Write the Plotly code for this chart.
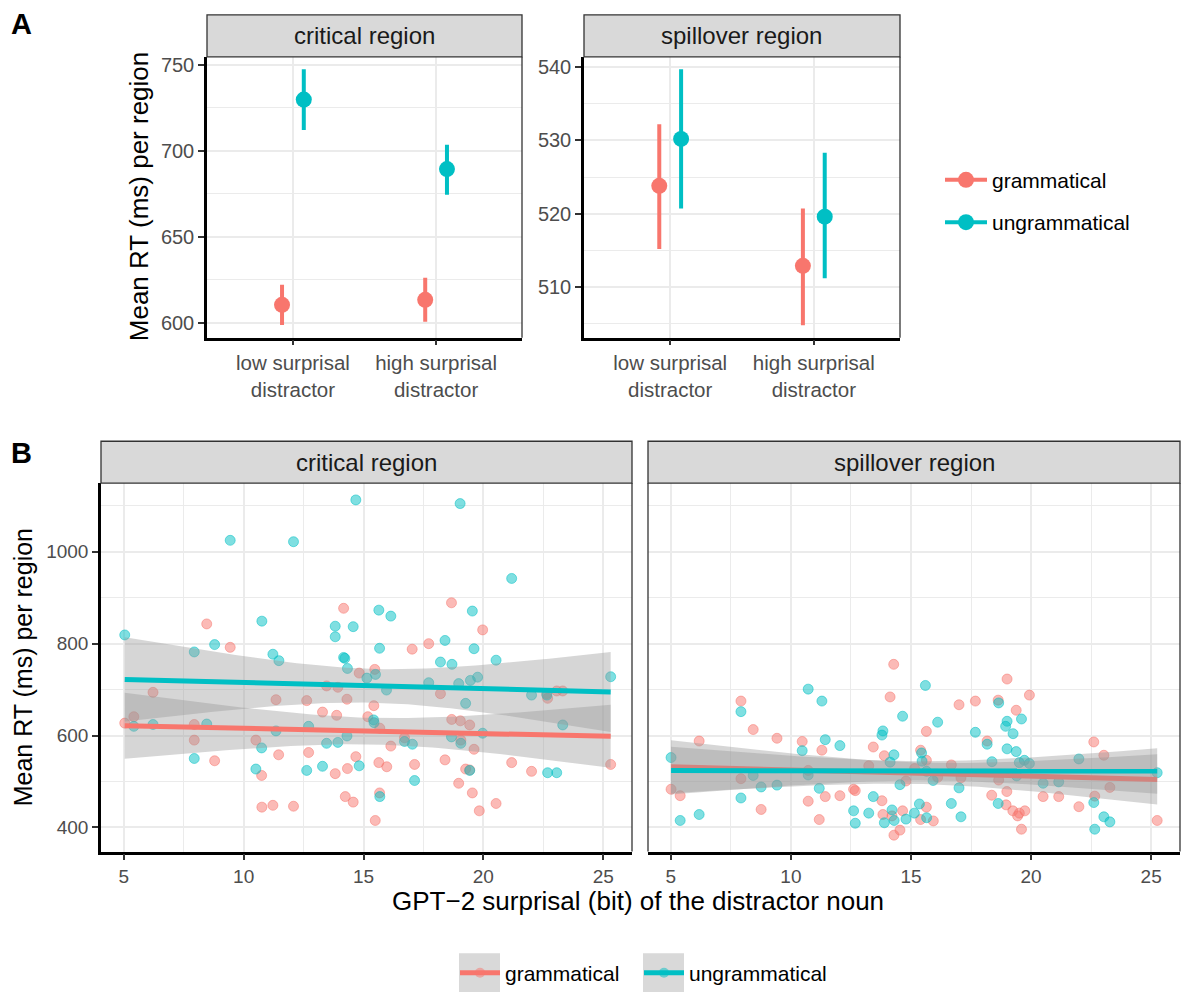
import numpy as np
import plotly.graph_objects as go

W, H = 1182, 994
RED = "#F8766D"
CYAN = "#00BFC4"
RED_A = "rgba(248,118,109,0.5)"
CYAN_A = "rgba(0,191,196,0.5)"
FONT = "Liberation Sans, Arial, sans-serif"
GRID = "#EBEBEB"
DARK = "#333333"

# ---------------- Panel A: condition means with 95% CIs ----------------
conditions = ["low surprisal<br>distractor", "high surprisal<br>distractor"]

crit_gram_mean = [610.4, 613.3]
crit_gram_lo = [598.6, 600.6]
crit_gram_hi = [622.0, 626.1]
crit_ungram_mean = [729.7, 689.3]
crit_ungram_lo = [712.1, 674.4]
crit_ungram_hi = [747.3, 703.4]

spill_gram_mean = [523.8, 512.9]
spill_gram_lo = [515.2, 504.8]
spill_gram_hi = [532.2, 520.7]
spill_ungram_mean = [530.2, 519.6]
spill_ungram_lo = [520.7, 511.2]
spill_ungram_hi = [539.7, 528.3]

# ---------------- Panel B: item means by distractor surprisal ----------------
crit_gram_x = [14.17, 8.46, 9.44, 14.82, 13.46, 13.93, 6.22, 11.35, 12.63, 13.29,
               13.88, 14.31, 5.04, 5.42, 7.94, 7.94, 10.51, 8.79, 11.46, 12.71,
               14.68, 10.75, 13.82, 14.33, 10.76, 11.22, 12.08, 14.24, 14.57,
               18.67, 19.97, 17.72, 17.03, 15.47, 15.43, 18.21, 15.18, 15.68, 18.68,
               19.04, 19.43, 22.64, 22.68, 23.06, 23.31, 16.71, 19.06, 16.14, 19.61,
               15.64, 15.97, 17.13, 18.40, 19.26, 19.43, 21.18, 22.01, 25.31, 18.97,
               19.54, 20.53, 19.83, 15.67, 15.49]
crit_gram_y = [877, 843, 792, 736, 708, 705, 694, 678, 676, 651,
               644, 679, 627, 641, 624, 590, 590, 545, 558, 563,
               554, 513, 517, 528, 444, 448, 446, 467, 455,
               889, 830, 800, 788, 744, 665, 691, 641, 616, 635,
               632, 623, 691, 681, 697, 697, 595, 590, 577, 570,
               541, 532, 537, 547, 527, 525, 541, 522, 537, 496,
               475, 452, 436, 475, 415]

crit_ungram_x = [14.68, 9.44, 12.08, 5.04, 10.76, 13.82, 14.57, 13.82, 7.94, 8.79,
                 11.22, 11.47, 14.17, 14.22, 14.33, 15.14, 5.42, 6.22, 8.46, 11.35,
                 12.71, 10.75, 7.94, 10.51, 12.63, 13.29, 13.46, 13.93, 14.31, 14.82,
                 19.03, 21.18, 15.64, 16.14, 19.54, 15.67, 18.40, 19.61, 18.21, 18.69,
                 20.53, 15.50, 17.72, 18.97, 19.46, 19.76, 25.31, 15.96, 19.26, 22.01,
                 22.65, 15.42, 15.44, 23.31, 16.71, 17.04, 18.67, 19.06, 19.97, 17.13,
                 19.43, 22.68, 23.06, 15.68]
crit_ungram_y = [1113, 1025, 1022, 819, 849, 838, 837, 815, 782, 798,
                 777, 763, 770, 768, 746, 725, 620, 624, 625, 610,
                 620, 573, 550, 527, 524, 533, 583, 585, 599, 534,
                 1105, 942, 873, 860, 871, 790, 807, 789, 760, 755,
                 764, 733, 715, 713, 720, 727, 728, 699, 670, 688,
                 688, 634, 628, 623, 587, 581, 597, 583, 605, 502,
                 524, 519, 519, 467]

spill_gram_x = [14.28, 14.13, 7.92, 8.43, 6.18, 9.42, 10.47, 11.29, 13.43, 13.89,
                13.24, 10.72, 7.92, 14.79, 5.01, 5.39, 12.61, 12.68, 11.43, 12.04,
                10.72, 13.79, 8.76, 11.18, 14.65, 13.83, 14.21, 14.54, 14.29, 15.15,
                19.00, 19.93, 17.00, 17.68, 18.63, 19.38, 15.64, 18.17, 15.40, 15.64,
                16.68, 16.11, 17.08, 18.65, 18.99, 18.36, 22.61, 23.03, 23.28, 20.50,
                21.15, 21.99, 22.65, 15.64, 18.96, 19.24, 19.44, 19.51, 19.74, 19.60,
                15.40, 15.93, 25.25]
spill_gram_y = [755, 684, 675, 613, 588, 594, 587, 568, 575, 556,
                534, 524, 506, 501, 483, 469, 483, 480, 467, 469,
                457, 458, 439, 417, 436, 428, 425, 394, 383, 528,
                723, 688, 667, 675, 677, 655, 609, 588, 568, 546,
                536, 509, 508, 503, 478, 470, 586, 557, 487, 467,
                467, 445, 468, 444, 449, 436, 425, 431, 436, 396,
                417, 414, 415]

spill_ungram_x = [10.72, 11.29, 7.92, 14.65, 13.83, 13.79, 11.43, 12.04, 10.47, 14.29,
                  14.13, 5.01, 10.72, 8.43, 8.76, 9.42, 11.18, 14.54, 7.92, 13.43,
                  12.61, 12.68, 13.24, 14.21, 13.89, 14.30, 14.79, 15.14, 15.35, 5.39,
                  6.18, 15.60, 16.11, 18.65, 19.00, 18.94, 19.60, 19.25, 17.68, 18.17,
                  19.00, 19.38, 15.44, 15.46, 18.37, 19.72, 19.51, 19.93, 21.99, 15.65,
                  15.92, 19.40, 20.50, 21.15, 17.00, 25.25, 16.68, 18.63, 17.08, 15.65,
                  22.61, 23.03, 23.28, 22.65]
spill_ungram_y = [701, 675, 652, 642, 610, 601, 591, 578, 567, 558,
                  542, 552, 514, 513, 488, 492, 485, 493, 464, 467,
                  436, 409, 431, 438, 410, 415, 418, 431, 451, 415,
                  428, 709, 629, 671, 631, 620, 636, 604, 607, 581,
                  571, 565, 562, 544, 543, 546, 541, 539, 549, 522,
                  502, 512, 496, 499, 486, 519, 452, 452, 423, 421,
                  454, 423, 412, 396]

T975 = 2.0  # t quantile for the 95% band (df ~ 60)


def px(x):
    return x / W


def py(y):
    return 1 - y / H


def lm_band(x, y, n_grid=80):
    """Least-squares line with a 95% confidence band over the data range."""
    x = np.asarray(x, float)
    y = np.asarray(y, float)
    n = len(x)
    xb = x.mean()
    sxx = ((x - xb) ** 2).sum()
    b1 = ((x - xb) * (y - y.mean())).sum() / sxx
    b0 = y.mean() - b1 * xb
    s = np.sqrt(((y - (b0 + b1 * x)) ** 2).sum() / (n - 2))
    g = np.linspace(x.min(), x.max(), n_grid)
    fit = b0 + b1 * g
    se = s * np.sqrt(1 / n + (g - xb) ** 2 / sxx)
    return g, fit, fit - T975 * se, fit + T975 * se


fig = go.Figure()

# ---- Panel A point ranges ----
dodge = 0.076
panelA = [
    ("x", "y", [(crit_gram_mean, crit_gram_lo, crit_gram_hi, RED, -dodge),
                (crit_ungram_mean, crit_ungram_lo, crit_ungram_hi, CYAN, dodge)]),
    ("x2", "y2", [(spill_gram_mean, spill_gram_lo, spill_gram_hi, RED, -dodge),
                  (spill_ungram_mean, spill_ungram_lo, spill_ungram_hi, CYAN, dodge)]),
]
for xa, ya, groups in panelA:
    for mean, lo, hi, col, off in groups:
        xs = [i + 1 + off for i in range(len(mean))]
        fig.add_trace(go.Scatter(
            x=xs, y=mean, mode="markers", xaxis=xa, yaxis=ya, showlegend=False,
            marker=dict(color=col, size=16),
            error_y=dict(type="data", symmetric=False,
                         array=[h - m for h, m in zip(hi, mean)],
                         arrayminus=[m - l for m, l in zip(mean, lo)],
                         thickness=4, width=0, color=col),
        ))

for name, col in [("grammatical", RED), ("ungrammatical", CYAN)]:
    fig.add_trace(go.Scatter(
        x=[None], y=[None], mode="lines+markers", name=name, legend="legend",
        legendgroup="A" + name, xaxis="x", yaxis="y",
        line=dict(color=col, width=4), marker=dict(color=col, size=16)))

# ---- Panel B scatter + linear fits ----
panelB = [
    ("x3", "y3", [(crit_gram_x, crit_gram_y, RED, RED_A),
                  (crit_ungram_x, crit_ungram_y, CYAN, CYAN_A)]),
    ("x4", "y4", [(spill_gram_x, spill_gram_y, RED, RED_A),
                  (spill_ungram_x, spill_ungram_y, CYAN, CYAN_A)]),
]
for xa, ya, groups in panelB:
    for xv, yv, col, cola in groups:
        fig.add_trace(go.Scatter(
            x=xv, y=yv, mode="markers", xaxis=xa, yaxis=ya, showlegend=False,
            marker=dict(color=cola, size=10, line=dict(color=cola, width=1)),
        ))
    for xv, yv, col, cola in groups:
        g, fit, lo, hi = lm_band(xv, yv)
        fig.add_trace(go.Scatter(
            x=np.concatenate([g, g[::-1]]), y=np.concatenate([hi, lo[::-1]]),
            mode="lines", fill="toself", fillcolor="rgba(153,153,153,0.4)",
            line=dict(width=0), xaxis=xa, yaxis=ya, showlegend=False,
            hoverinfo="skip"))
        fig.add_trace(go.Scatter(
            x=g, y=fit, mode="lines", line=dict(color=col, width=5),
            xaxis=xa, yaxis=ya, showlegend=False))

# one legend box per key so each key can sit on its own grey tile
for name, col, cola, leg in [("grammatical", RED, RED_A, "legend2"),
                             ("ungrammatical", CYAN, CYAN_A, "legend3")]:
    fig.add_trace(go.Scatter(
        x=[None], y=[None], mode="lines+markers", name=name, legend=leg,
        xaxis="x3", yaxis="y3",
        line=dict(color=col, width=5), marker=dict(color=cola, size=10)))

# ---------------- axes ----------------
def axis(domain, rng, **kw):
    d = dict(domain=domain, range=rng, showgrid=True, gridcolor=GRID, gridwidth=2,
             zeroline=False, ticks="outside", ticklen=6, tickwidth=2, tickcolor=DARK,
             tickfont=dict(family=FONT, size=20, color="#4D4D4D"),
             showline=True, linecolor="black", linewidth=2.5, fixedrange=True)
    d.update(kw)
    return d


def minor(vals):
    return dict(tickvals=vals, showgrid=True, gridcolor=GRID, gridwidth=1.2, ticks="")


A_Y = [py(336), py(54)]
B_Y = [py(852), py(482)]
A1_X = [px(207), px(522)]
A2_X = [px(584), px(900)]
B1_X = [px(101), px(632)]
B2_X = [px(648), px(1180)]

xr_B = [4.05, 26.2]
yr_B = [347.3, 1149.7]
xt_B = [5, 10, 15, 20, 25]
xm_B = [7.5, 12.5, 17.5, 22.5]
yt_B = [400, 600, 800, 1000]
ym_B = [500, 700, 900, 1100]

cat_font = dict(family=FONT, size=20.5, color="#4D4D4D")
fig.update_layout(
    xaxis=axis(A1_X, [0.4, 2.6], anchor="y", tickvals=[1, 2], ticktext=conditions,
               tickfont=cat_font, ticklen=5),
    yaxis=axis(A_Y, [591.3, 754.6], anchor="x", tickvals=[600, 650, 700, 750],
               minor=minor([625, 675, 725])),
    xaxis2=axis(A2_X, [0.4, 2.6], anchor="y2", tickvals=[1, 2], ticktext=conditions,
                tickfont=cat_font, ticklen=5),
    yaxis2=axis(A_Y, [503.1, 541.4], anchor="x2", tickvals=[510, 520, 530, 540],
                minor=minor([505, 515, 525, 535])),
    xaxis3=axis(B1_X, xr_B, anchor="y3", tickvals=xt_B, minor=minor(xm_B),
                tickfont=dict(family=FONT, size=19, color="#4D4D4D")),
    yaxis3=axis(B_Y, yr_B, anchor="x3", tickvals=yt_B, minor=minor(ym_B),
                tickfont=dict(family=FONT, size=19, color="#4D4D4D")),
    xaxis4=axis(B2_X, xr_B, anchor="y4", tickvals=xt_B, minor=minor(xm_B),
                tickfont=dict(family=FONT, size=19, color="#4D4D4D")),
    yaxis4=axis(B_Y, yr_B, anchor="x4", tickvals=yt_B, minor=minor(ym_B),
                showticklabels=False, ticks="", showline=False),
)

# ---------------- strips, borders, titles ----------------
shapes = []
annotations = []
panels = [
    (A1_X, 54, 12, 336, "critical region", True),
    (A2_X, 54, 12, 336, "spillover region", True),
    (B1_X, 482, 440, 852, "critical region", True),
    (B2_X, 482, 440, 852, "spillover region", False),
]
for (x0, x1), top, stop, bottom, label, has_yline in panels:
    shapes.append(dict(type="rect", xref="paper", yref="paper",
                       x0=x0, x1=x1, y0=py(top), y1=py(stop),
                       fillcolor="#D9D9D9", line=dict(color=DARK, width=1.3),
                       layer="above"))
    shapes.append(dict(type="line", xref="paper", yref="paper",
                       x0=x1, x1=x1, y0=py(bottom), y1=py(top),
                       line=dict(color=DARK, width=1.3), layer="above"))
    if not has_yline:
        shapes.append(dict(type="line", xref="paper", yref="paper",
                           x0=x0, x1=x0, y0=py(bottom), y1=py(top),
                           line=dict(color=DARK, width=1.3), layer="above"))
    annotations.append(dict(text=label, xref="paper", yref="paper",
                            x=(x0 + x1) / 2, y=py((top + stop) / 2),
                            xanchor="center", yanchor="middle", showarrow=False,
                            font=dict(family=FONT, size=24, color="#1A1A1A")))

# grey key backgrounds of the bottom legend
for x0 in (459, 643):
    shapes.append(dict(type="rect", xref="paper", yref="paper",
                       x0=px(x0), x1=px(x0 + 41), y0=py(993), y1=py(954),
                       fillcolor="#D9D9D9", line=dict(width=0), layer="below"))

annotations += [
    dict(text="<b>A</b>", x=px(9), y=py(21), xanchor="left", yanchor="middle",
         xref="paper", yref="paper", showarrow=False,
         font=dict(family=FONT, size=29, color="black")),
    dict(text="<b>B</b>", x=px(9), y=py(452), xanchor="left", yanchor="middle",
         xref="paper", yref="paper", showarrow=False,
         font=dict(family=FONT, size=29, color="black")),
    dict(text="Mean RT (ms) per region", x=px(139), y=py(195), textangle=-90,
         xanchor="center", yanchor="middle", xref="paper", yref="paper",
         showarrow=False, font=dict(family=FONT, size=26, color="black")),
    dict(text="Mean RT (ms) per region", x=px(23), y=py(667), textangle=-90,
         xanchor="center", yanchor="middle", xref="paper", yref="paper",
         showarrow=False, font=dict(family=FONT, size=25, color="black")),
    dict(text="GPT\u22122 surprisal (bit) of the distractor noun", x=px(638), y=py(902),
         xanchor="center", yanchor="middle", xref="paper", yref="paper",
         showarrow=False, font=dict(family=FONT, size=26, color="black")),
]

leg_font = dict(family=FONT, size=21, color="black")
fig.update_layout(
    width=W, height=H, margin=dict(l=0, r=0, t=0, b=0),
    paper_bgcolor="white", plot_bgcolor="white",
    font=dict(family=FONT, color="black"),
    shapes=shapes, annotations=annotations,
    legend=dict(x=px(940), xanchor="left", y=py(199), yanchor="middle",
                font=leg_font, bgcolor="rgba(0,0,0,0)", traceorder="grouped",
                tracegroupgap=12, itemwidth=42),
    legend2=dict(orientation="h", x=px(455), xanchor="left", y=py(974),
                 yanchor="middle", font=leg_font, bgcolor="rgba(0,0,0,0)",
                 itemwidth=40),
    legend3=dict(orientation="h", x=px(639), xanchor="left", y=py(974),
                 yanchor="middle", font=leg_font, bgcolor="rgba(0,0,0,0)",
                 itemwidth=40),
    hovermode=False,
)

fig.write_html("out.html")
